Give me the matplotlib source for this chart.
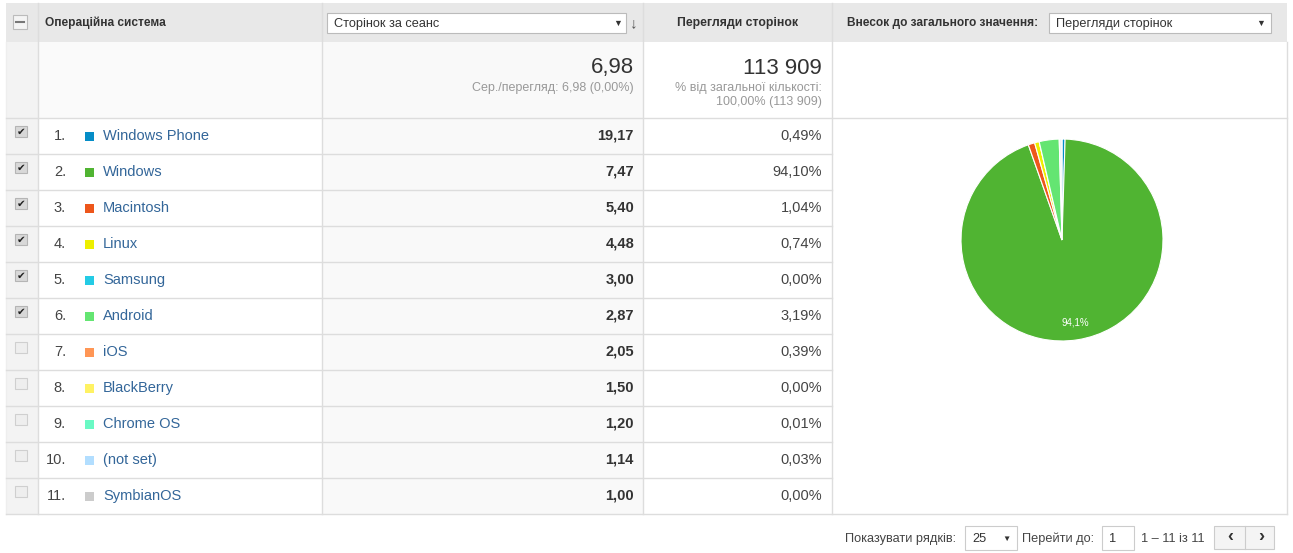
import matplotlib
matplotlib.use('Agg')
import matplotlib.pyplot as plt
from matplotlib.patches import Rectangle

plt.rcParams['font.family'] = ['Liberation Sans', 'DejaVu Sans']

# дані з таблиці
os_names = ['Windows Phone', 'Windows', 'Macintosh', 'Linux', 'Samsung', 'Android',
            'iOS', 'BlackBerry', 'Chrome OS', '(not set)', 'SymbianOS']
pages_per_session = [19.17, 7.47, 5.40, 4.48, 3.00, 2.87, 2.05, 1.50, 1.20, 1.14, 1.00]
pageview_share = [0.49, 94.10, 1.04, 0.74, 0.00, 3.19, 0.39, 0.00, 0.01, 0.03, 0.00]
checked = [True, True, True, True, True, True, False, False, False, False, False]
os_colors = ['#058dc7', '#50b432', '#ed561b', '#edef00', '#24cbe5', '#64e572',
             '#ff9655', '#fff263', '#6af9c4', '#b2deff', '#cccccc']
avg_pages = 6.98
total_views = 113909


def fmt(v, nd=2):
    return f'{v:.{nd}f}'.replace('.', ',')


W, H = 1293, 553
fig = plt.figure(figsize=(W / 100, H / 100), dpi=100)
ax = fig.add_axes([0, 0, 1, 1])
ax.set_xlim(0, W)
ax.set_ylim(H, 0)
ax.axis('off')

line_c = '#dddddd'
x_left, x_c1, x_c2, x_c3, x_c4, x_right = 6, 38, 322, 643, 832, 1287
y_top, y_head, y_sum = 3, 42, 118
row_h = 36
y_bottom = y_sum + row_h * len(os_names)

# фон
ax.add_patch(Rectangle((x_left, y_top), x_right - x_left, y_head - y_top, color='#e8e8e8', lw=0))
ax.add_patch(Rectangle((x_left, y_head), x_c1 - x_left, y_bottom - y_head, color='#f3f3f3', lw=0))
ax.add_patch(Rectangle((x_c1, y_head), x_c2 - x_c1, y_sum - y_head, color='#fafafa', lw=0))
ax.add_patch(Rectangle((x_c2, y_head), x_c3 - x_c2, y_bottom - y_head, color='#f9f9f9', lw=0))

# лінії
for x in [x_c1, x_c2, x_c3, x_c4]:
    ax.plot([x, x], [y_top, y_bottom], color=line_c, lw=1)
ax.plot([x_right, x_right], [y_head, y_bottom], color=line_c, lw=1)
ax.plot([x_left, x_left], [y_head, y_bottom], color='#eeeeee', lw=1)
for i in range(len(os_names) + 1):
    y = y_sum + i * row_h
    ax.plot([x_left, x_c4 if 0 < i < len(os_names) else x_right], [y, y], color=line_c, lw=1)

# заголовок
ax.add_patch(Rectangle((13, 15), 14, 14, facecolor='#f4f4f4', edgecolor='#bbbbbb', lw=0.8))
ax.plot([16, 24], [22, 22], color='#777777', lw=1.5)
ax.text(45, 23, 'Операційна система', fontsize=8.6, fontweight='bold', color='#333333', va='center')
ax.add_patch(Rectangle((327, 13), 299, 20, facecolor='white', edgecolor='#bbbbbb', lw=0.8))
ax.text(334, 23.5, 'Сторінок за сеанс', fontsize=9.2, color='#333333', va='center')
ax.text(618, 23, '▼', fontsize=6.5, color='#333333', va='center', ha='center')
ax.text(634, 23, '↓', fontsize=11, color='#555555', va='center', ha='center')
ax.text(738, 23, 'Перегляди сторінок', fontsize=8.8, fontweight='bold', color='#333333', va='center', ha='center')
ax.text(847, 23, 'Внесок до загального значення:', fontsize=8.6, fontweight='bold', color='#333333', va='center')
ax.add_patch(Rectangle((1049, 13), 222, 20, facecolor='white', edgecolor='#bbbbbb', lw=0.8))
ax.text(1056, 23.5, 'Перегляди сторінок', fontsize=9.2, color='#333333', va='center')
ax.text(1261, 23, '▼', fontsize=6.5, color='#333333', va='center', ha='center')

# підсумок
ax.text(634, 68, fmt(avg_pages), fontsize=16, color='#333333', ha='right', va='center')
ax.text(634, 88, f'Сер./перегляд: {fmt(avg_pages)} (0,00%)', fontsize=9, color='#999999', ha='right', va='center')
total_txt = f'{total_views:,}'.replace(',', ' ')
ax.text(822, 68, total_txt, fontsize=16, color='#333333', ha='right', va='center')
ax.text(822, 88, '% від загальної кількості:', fontsize=9, color='#999999', ha='right', va='center')
ax.text(822, 102, f'100,00% ({total_txt})', fontsize=9, color='#999999', ha='right', va='center')

# рядки
for i, name in enumerate(os_names):
    yc = y_sum + i * row_h + row_h / 2
    if checked[i]:
        ax.add_patch(Rectangle((15, yc - 10), 12, 11, facecolor='#d8d8d8', edgecolor='#b5b5b5', lw=0.8))
        ax.text(21, yc - 4.5, '✔', fontsize=7.5, color='#222222', ha='center', va='center',
                family='DejaVu Sans')
    else:
        ax.add_patch(Rectangle((15, yc - 10), 12, 11, facecolor='#eeeeee', edgecolor='#cfcfcf', lw=0.8))
    ax.text(66, yc, f'{i + 1}.', fontsize=10.5, color='#444444', ha='right', va='center')
    ax.add_patch(Rectangle((85, yc - 4.5), 9, 9, color=os_colors[i], lw=0))
    ax.text(103, yc, name, fontsize=10.5, color='#336699', va='center')
    ax.text(634, yc, fmt(pages_per_session[i]), fontsize=10.5, fontweight='bold', color='#333333',
            ha='right', va='center')
    ax.text(822, yc, fmt(pageview_share[i]) + '%', fontsize=10.5, color='#444444', ha='right', va='center')

# низ сторінки
fy = 539
ax.text(845, fy, 'Показувати рядків:', fontsize=9.2, color='#444444', va='center')
ax.add_patch(Rectangle((965, 526), 52, 24, facecolor='white', edgecolor='#cccccc', lw=0.8))
ax.text(972, fy, '25', fontsize=9.2, color='#333333', va='center')
ax.text(1006, fy, '▼', fontsize=6, color='#333333', va='center', ha='center')
ax.text(1022, fy, 'Перейти до:', fontsize=9.2, color='#444444', va='center')
ax.add_patch(Rectangle((1102, 526), 32, 24, facecolor='white', edgecolor='#cccccc', lw=0.8))
ax.text(1109, fy, '1', fontsize=9.2, color='#333333', va='center')
ax.text(1141, fy, '1 – 11 із 11', fontsize=9.2, color='#444444', va='center')
ax.add_patch(Rectangle((1214, 526), 60, 23, facecolor='#f4f4f4', edgecolor='#cccccc', lw=0.8))
ax.plot([1245, 1245], [526, 549], color='#cccccc', lw=0.8)
ax.text(1230, fy - 2, '‹', fontsize=13, fontweight='bold', color='#333333', va='center', ha='center')
ax.text(1261, fy - 2, '›', fontsize=13, fontweight='bold', color='#333333', va='center', ha='center')

# кругова діаграма
pie_vals = [v for v, c in zip(pageview_share, checked) if c]
pie_cols = [col for col, c in zip(os_colors, checked) if c]
pie_vals.append(100 - sum(pie_vals))
pie_cols.append('#f2f2f2')

cx, cy, r = 1062, 240, 103
pax = fig.add_axes([(cx - r) / W, (H - cy - r) / H, 2 * r / W, 2 * r / H])
wedges, texts, autotexts = pax.pie(
    pie_vals, colors=pie_cols, startangle=90, counterclock=False,
    wedgeprops={'edgecolor': 'white', 'linewidth': 0.8},
    autopct=lambda p: (f'{p:.1f}%'.replace('.', ',') if p > 5 else ''),
    pctdistance=0.83, textprops={'color': 'white', 'fontsize': 7})
pax.set_xlim(-1.02, 1.02)
pax.set_ylim(-1.02, 1.02)
pax.axis('off')

plt.savefig('out.png', dpi=100)
